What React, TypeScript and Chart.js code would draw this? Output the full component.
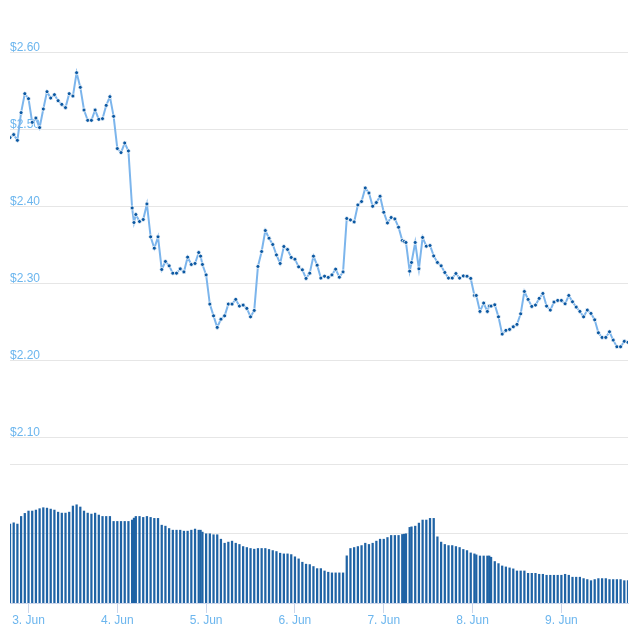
import React, { useEffect, useRef } from "react";
import { Chart, registerables } from "chart.js";

Chart.register(...registerables);

// Hours relative to 3 Jun 00:00
const HOURS = [
  -5, -4, -3, -2, -1, 0, 1, 2, 3, 4, 5, 6, 7, 8, 9, 10, 11, 12, 13, 14, 15, 16, 17, 18, 19, 20, 21, 22, 23, 24, 25, 26, 27, 28,
  28.5,
  29, 30, 31, 32, 33, 34, 35, 36, 37, 38, 39, 40, 41, 42, 43, 44, 45, 46,
  46.5,
  47, 48, 49, 50, 51, 52, 53, 54, 55, 56, 57, 58, 59, 60, 61, 62, 63, 64, 65, 66, 67, 68, 69, 70,
  71, 72, 73, 74, 75, 76, 77, 78, 79, 80, 81, 82, 83, 84, 85, 86, 87, 88, 89, 90, 91, 92, 93, 94,
  95, 96, 97, 98, 99, 100, 101,
  101.5,
  102, 103,
  103.5,
  104.5, 105.5, 106.5, 107.5, 108.5, 109.5, 110.5, 111.5, 112.5, 113.5, 114.5, 115.5, 116.5, 117.5, 118.5, 119.5, 120.5,
  121, 122, 123, 124,
  124.5,
  125, 126, 127, 128, 129, 130, 131, 132, 133, 134, 135, 136, 137, 138, 139, 140, 141, 142, 143,
  144, 145, 146, 147, 148, 149, 150, 151, 152, 153, 154, 155, 156, 157, 158, 159, 160, 161, 162,
];

const PRICES = [
  2.4895, 2.4934, 2.486, 2.5219, 2.5465, 2.54, 2.5093, 2.5149, 2.5025, 2.5266,
  2.5491, 2.5408, 2.5452, 2.5374, 2.5326, 2.5284, 2.5465, 2.5434, 2.5737, 2.5547,
  2.5253, 2.5119, 2.5119, 2.5253, 2.5132, 2.5141, 2.5313, 2.5426, 2.5171, 2.4753,
  2.4701, 2.4825, 2.4722, 2.3983,
  2.3794,
  2.3898, 2.3807, 2.3833, 2.4035, 2.3608, 2.3461, 2.3608, 2.3185, 2.3289, 2.3232,
  2.3137, 2.3137, 2.3193, 2.3154, 2.3345, 2.325, 2.3263, 2.3405,
  2.3358,
  2.325, 2.3115, 2.2736, 2.2584, 2.2434, 2.2541, 2.2584, 2.2736, 2.2736,
  2.2797, 2.271, 2.2723, 2.268, 2.2571, 2.2654, 2.3224, 2.3418, 2.369, 2.3591,
  2.3509, 2.3374, 2.3263, 2.3483, 2.3444, 2.3341, 2.3319, 2.3219, 2.318, 2.3069,
  2.3137, 2.3358, 2.3241, 2.3073, 2.3098, 2.3082, 2.3115, 2.3189, 2.3085, 2.3154,
  2.3846, 2.3828, 2.3802, 2.4022, 2.4066, 2.4242, 2.4177, 2.4005, 2.4053, 2.4135,
  2.3927, 2.3789, 2.3859, 2.3841, 2.3733, 2.3561,
  2.3548,
  2.3535, 2.3163,
  2.3276,
  2.3535, 2.3193, 2.36, 2.3487, 2.3496, 2.3361, 2.3276, 2.3232, 2.3146, 2.3073,
  2.3073, 2.3133, 2.3073, 2.3102, 2.3098, 2.3069, 2.2848,
  2.2848, 2.2641, 2.2749, 2.2641,
  2.271,
  2.271, 2.2727, 2.2571, 2.2347, 2.2395, 2.2408, 2.2442, 2.2473, 2.261, 2.29,
  2.2797, 2.2706, 2.2723, 2.281, 2.2874, 2.271, 2.2658, 2.2762, 2.2784, 2.2784,
  2.274, 2.2848, 2.2766, 2.2697, 2.2641, 2.2571, 2.2658, 2.2615, 2.2532, 2.2364,
  2.2304, 2.2304, 2.2377, 2.2269, 2.2183, 2.2183, 2.2253, 2.224,
];

// Volume in millions (arbitrary units)
const VOLUMES = [
  56.9, 57.8, 56.9, 62.4, 64.6, 66.3, 66.3, 67.0, 68.0, 68.7,
  68.4, 67.7, 67.0, 65.5, 64.8, 64.8, 65.5, 69.9, 70.8, 69.2,
  66.3, 64.8, 64.1, 64.8, 63.4, 62.4, 62.4, 62.4, 58.8, 58.8,
  58.8, 58.8, 58.8, 59.8,
  61.2,
  62.4, 62.4, 61.7, 62.4, 61.7, 61.0, 61.0, 56.1, 55.4, 53.7,
  52.5, 52.5, 52.5, 51.8, 51.8, 52.5, 53.3, 52.5,
  52.5,
  51.1, 49.9, 49.9, 49.2, 49.2, 46.0, 43.1, 43.9, 44.6,
  43.1, 42.2, 40.7, 40.0, 39.3, 38.8, 39.3, 39.3, 39.3, 38.6,
  37.8, 37.1, 35.9, 35.4, 35.4, 34.9, 33.3, 31.8, 29.4, 28.0,
  27.7, 26.3, 24.8, 24.8, 23.1, 22.2, 21.7, 21.7, 21.7, 21.7,
  34.0, 39.3, 40.0, 40.7, 41.4, 43.1, 42.2, 43.1, 44.6, 46.0,
  46.0, 47.2, 48.7, 48.7, 48.7, 49.4,
  49.6,
  49.9, 54.5,
  54.9,
  55.4, 57.6, 59.8, 59.8, 61.0, 61.0, 47.7, 43.9, 42.2, 41.4,
  41.4, 40.7, 40.0, 38.6, 37.8, 36.1, 35.4,
  34.7, 33.9, 33.9, 33.9,
  33.9,
  33.0, 29.9, 28.4, 26.7, 26.0, 25.3, 24.6, 23.1, 23.1, 23.1,
  21.4, 21.4, 21.4, 20.7, 20.7, 20.0, 20.0, 20.0, 20.0, 20.0,
  20.7, 20.0, 18.6, 18.6, 18.6, 17.6, 16.9, 16.1, 16.9, 17.6,
  17.6, 17.6, 16.9, 16.9, 16.9, 16.9, 16.1, 16.1,
];

const PRICE_TICKS = [2.1, 2.2, 2.3, 2.4, 2.5, 2.6];
const VOLUME_TICKS = [50, 100];
const DAY_TICKS = [0, 24, 48, 72, 96, 120, 144];
const DAY_LABELS = ["3. Jun", "4. Jun", "5. Jun", "6. Jun", "7. Jun", "8. Jun", "9. Jun"];

const X_MIN = -5;
const X_MAX = 162;
const PRICE_MIN = 1.886;
const PRICE_MAX = 2.655;
const VOL_MAX = 427.5;

const LABEL_COLOR = "#6cb6ee";
const FONT = { family: '"Liberation Sans", Arial, sans-serif', size: 12 };

export default function App() {
  const ref = useRef<HTMLCanvasElement>(null);

  useEffect(() => {
    const canvas = ref.current;
    if (!canvas) return;
    const pricePts = HOURS.map((h, i) => ({ x: h, y: PRICES[i] }));
    const volPts = HOURS.map((h, i) => ({ x: h, y: VOLUMES[i] }));

    const chart = new Chart(canvas, {
      type: "line",
      data: {
        datasets: [
          {
            type: "line",
            data: pricePts,
            yAxisID: "y",
            borderColor: "#7cb5ec",
            borderWidth: 2,
            pointRadius: 2,
            pointBackgroundColor: "#0b58a2",
            pointBorderColor: "#ffffff",
            pointBorderWidth: 0.8,
            tension: 0,
            order: 0,
          } as any,
          {
            type: "bar",
            data: volPts,
            yAxisID: "yVol",
            backgroundColor: "#1f63a5",
            barThickness: 1.6,
            order: 1,
          } as any,
        ],
      },
      options: {
        animation: false,
        responsive: false,
        devicePixelRatio: 1,
        layout: { padding: { left: 10, right: 12, top: 10, bottom: 12.6 } },
        plugins: { legend: { display: false }, tooltip: { enabled: false } },
        scales: {
          x: {
            type: "linear",
            min: X_MIN,
            max: X_MAX,
            offset: false,
            afterBuildTicks: (s: any) => {
              s.ticks = DAY_TICKS.map((v) => ({ value: v }));
            },
            afterFit: (s: any) => {
              s.paddingLeft = 0;
              s.paddingRight = 0;
            },
            ticks: {
              callback: (_v: any, i: number) => DAY_LABELS[i] ?? "",
              color: LABEL_COLOR,
              font: FONT,
              padding: 0,
              maxRotation: 0,
              autoSkip: false,
            },
            grid: { offset: false, drawOnChartArea: false, drawTicks: true, tickLength: 10, color: "#ccd6eb" },
            border: { display: true, color: "#ccd6eb" },
          },
          y: {
            type: "linear",
            position: "left",
            min: PRICE_MIN,
            max: PRICE_MAX,
            afterBuildTicks: (s: any) => {
              s.ticks = PRICE_TICKS.map((v) => ({ value: v }));
            },
            afterFit: (s: any) => {
              s.paddingTop = 0;
              s.paddingBottom = 0;
              s.width = 0;
            },
            ticks: {
              mirror: true,
              padding: 0,
              labelOffset: -5,
              color: LABEL_COLOR,
              font: FONT,
              callback: (v: any) => "$" + Number(v).toFixed(2),
            },
            grid: { color: "#e6e6e6", drawTicks: false },
            border: { display: false },
          },
          yVol: {
            type: "linear",
            position: "right",
            min: 0,
            max: VOL_MAX,
            afterBuildTicks: (s: any) => {
              s.ticks = VOLUME_TICKS.map((v) => ({ value: v }));
            },
            afterFit: (s: any) => {
              s.width = 0;
            },
            ticks: { display: false },
            grid: { color: "#e6e6e6", drawTicks: false },
            border: { display: false },
          },
        },
      } as any,
    });
    return () => chart.destroy();
  }, []);

  return (
    <div style={{ position: "absolute", left: 0, top: 0, width: 640, height: 640, background: "#ffffff" }}>
      <canvas ref={ref} width={640} height={640} style={{ display: "block" }} />
    </div>
  );
}
